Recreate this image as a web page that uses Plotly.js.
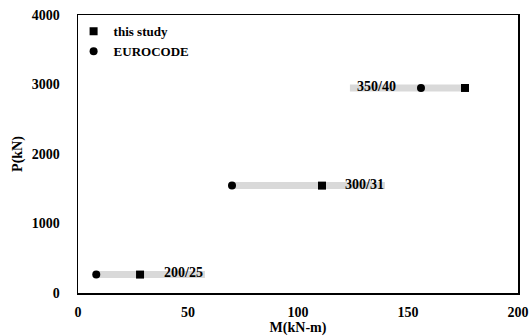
<!DOCTYPE html>
<html>
<head>
<meta charset="utf-8">
<script src="https://cdn.plot.ly/plotly-3.0.1.min.js"></script>
<style>html,body{margin:0;padding:0;background:#fff;}#chart{width:529px;height:336px;}</style>
</head>
<body>
<div id="chart"></div>
<script>
// Data
var sections = ["200/25", "300/31", "350/40"];
var studyM = [28.2, 110.9, 175.9];
var studyP = [265, 1545, 2950];
var euroM = [8.3, 70.0, 155.9];
var euroP = [265, 1545, 2950];
// grey label bands (start/end in M)
var bandStart = [9.1, 70.0, 123.6];
var bandEnd = [57.7, 139.5, 177.7];
// label anchor positions
var labelM = [38.2, 120.5, 125.9];
var labelP = [300, 1556, 2973];
var xTicks = [0, 50, 100, 150, 200];
var yTicks = [0, 1000, 2000, 3000, 4000];

var fontFam = "'Liberation Serif', 'Times New Roman', serif";
var traces = [];
for (var i = 0; i < sections.length; i++) {
  traces.push({
    x: [bandStart[i], bandEnd[i]],
    y: [studyP[i], studyP[i]],
    mode: 'lines',
    line: {color: '#d9d9d9', width: 7},
    showlegend: false,
    hoverinfo: 'skip'
  });
}
traces.push({
  x: studyM, y: studyP, mode: 'markers', name: 'this study',
  marker: {symbol: 'square', size: 8, color: '#000'}
});
traces.push({
  x: euroM, y: euroP, mode: 'markers', name: 'EUROCODE',
  marker: {symbol: 'circle', size: 8, color: '#000'}
});

var annotations = sections.map(function (s, i) {
  return {
    x: labelM[i], y: labelP[i], xref: 'x', yref: 'y', text: '<b>' + s + '</b>',
    showarrow: false, xanchor: 'left', yanchor: 'middle',
    font: {family: fontFam, size: 14, color: '#000'}
  };
});

var layout = {
  width: 529, height: 336,
  margin: {l: 78, r: 11, t: 15, b: 43},
  paper_bgcolor: '#fff', plot_bgcolor: '#fff',
  font: {family: fontFam, size: 14, color: '#000'},
  showlegend: true,
  legend: {
    x: -0.01, y: 0.995, xanchor: 'left', yanchor: 'top',
    bgcolor: 'rgba(0,0,0,0)', borderwidth: 0,
    font: {family: fontFam, size: 13, color: '#000', weight: 'bold'},
    tracegroupgap: 0, itemwidth: 30
  },
  xaxis: {
    range: [0, 200], tickvals: xTicks, ticktext: xTicks.map(function (v) { return '<b>' + v + '</b>'; }),
    showgrid: false, zeroline: false, showline: true, linecolor: '#000', linewidth: 1.5, mirror: true,
    ticks: '', ticklabelstandoff: 6,
    tickfont: {family: fontFam, size: 14, color: '#000'},
    title: {text: '<b>M(kN-m)</b>', font: {family: fontFam, size: 14, color: '#000'}, standoff: 2}
  },
  yaxis: {
    range: [0, 4000], tickvals: yTicks, ticktext: yTicks.map(function (v) { return '<b>' + v + '</b>'; }),
    showgrid: false, zeroline: false, showline: true, linecolor: '#000', linewidth: 1.5, mirror: true,
    ticks: '', ticklabelstandoff: 14,
    tickfont: {family: fontFam, size: 14, color: '#000'},
    title: {text: '<b>P(kN)</b>', font: {family: fontFam, size: 14, color: '#000'}, standoff: 6}
  },
  annotations: annotations
};

Plotly.newPlot('chart', traces, layout, {displayModeBar: false, staticPlot: true});
</script>
</body>
</html>
